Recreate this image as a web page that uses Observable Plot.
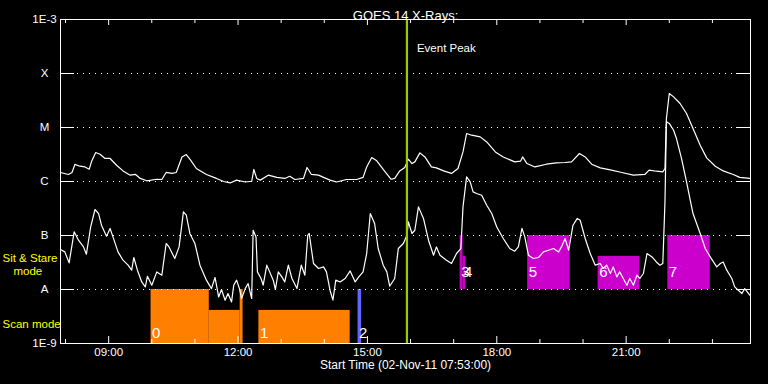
<!DOCTYPE html>
<html><head><meta charset="utf-8">
<script src="https://cdn.jsdelivr.net/npm/d3@7"></script>
<script src="https://cdn.jsdelivr.net/npm/@observablehq/plot@0.6"></script>
<style>html,body{margin:0;padding:0;background:#000;} #chart{width:768px;height:384px;}</style>
</head><body><div id="chart"></div>
<script>
// ---- data ----
const startTime = "07:53", endTime = "23:53";
const eventPeakTime = "15:55";
const titleText = "GOES 14 X-Rays:";
const footerText = "Start Time (02-Nov-11 07:53:00)";

// long-wavelength channel (1-8 Å), W/m²
const longTime = ["07:53","08:04","08:09","08:13","08:20","08:27","08:33","08:36","08:42","08:48","08:55","09:02","09:11","09:20","09:30","09:37","09:44","09:53","10:07","10:14","10:20","10:28","10:34","10:42","10:48","10:54","11:02","11:16","11:30","11:40","11:49","11:58","12:10","12:19","12:22","12:26","12:31","12:42","12:54","13:05","13:12","13:19","13:31","13:36","13:42","13:52","13:59","14:08","14:17","14:31","14:45","14:54","14:59","15:06","15:13","15:22","15:33","15:38","15:45","15:52","15:57","16:02","16:06","16:13","16:20","16:29","16:36","16:46","16:57","17:06","17:13","17:18","17:25","17:37","17:46","17:58","18:09","18:25","18:33","18:36","18:42","18:53","19:09","19:23","19:35","19:44","19:55","20:03","20:12","20:24","20:38","20:54","21:10","21:26","21:32","21:42","21:51","21:54","21:56","22:00","22:06","22:15","22:24","22:33","22:43","22:52","23:04","23:15","23:29","23:38","23:52"];
const longFlux = [1.47e-6,1.35e-6,1.47e-6,2.07e-6,1.92e-6,1.86e-6,1.69e-6,2.31e-6,3.44e-6,3.20e-6,2.67e-6,2.67e-6,2.00e-6,1.57e-6,1.31e-6,1.36e-6,1.14e-6,1.03e-6,1.10e-6,1.09e-6,1.47e-6,1.41e-6,1.47e-6,2.85e-6,3.16e-6,2.48e-6,1.74e-6,1.35e-6,1.14e-6,1.00e-6,9.4e-7,1.06e-6,9.8e-7,1.01e-6,1.67e-6,1.14e-6,1.06e-6,1.31e-6,1.19e-6,1.14e-6,1.25e-6,1.09e-6,1.14e-6,1.82e-6,1.35e-6,1.31e-6,1.19e-6,1.06e-6,9.8e-7,1.09e-6,1.09e-6,1.19e-6,1.86e-6,2.78e-6,2.41e-6,1.67e-6,1.10e-6,1.14e-6,1.57e-6,1.82e-6,2.59e-6,2.15e-6,2.31e-6,3.39e-6,2.85e-6,1.86e-6,1.79e-6,1.57e-6,1.41e-6,1.74e-6,3.53e-6,7.74e-6,7.20e-6,6.70e-6,5.41e-6,3.53e-6,2.85e-6,2.31e-6,2.38e-6,2.85e-6,2.15e-6,1.86e-6,2.09e-6,2.21e-6,2.25e-6,2.31e-6,3.30e-6,2.85e-6,2.09e-6,1.79e-6,1.64e-6,1.47e-6,1.31e-6,1.35e-6,1.62e-6,1.55e-6,1.51e-6,1.74e-6,1.47e-5,4.26e-5,3.69e-5,2.78e-5,1.82e-5,9.58e-6,4.70e-6,2.74e-6,1.92e-6,1.57e-6,1.35e-6,1.19e-6,1.14e-6];

// short-wavelength channel (0.5-4 Å), W/m²
const shortTime = ["07:53","07:59","08:05","08:12","08:18","08:25","08:29","08:35","08:41","08:46","08:50","08:57","09:02","09:06","09:13","09:20","09:27","09:32","09:35","09:40","09:46","09:51","09:54","10:00","10:07","10:14","10:20","10:24","10:32","10:38","10:44","10:48","10:53","11:00","11:07","11:16","11:23","11:28","11:33","11:37","11:42","11:46","11:51","11:54","11:58","12:02","12:05","12:10","12:14","12:19","12:21","12:25","12:27","12:32","12:35","12:40","12:44","12:49","12:52","12:56","13:01","13:05","13:10","13:15","13:22","13:28","13:33","13:37","13:39","13:45","13:52","13:59","14:03","14:08","14:12","14:16","14:22","14:29","14:36","14:43","14:48","14:54","14:59","15:04","15:10","15:15","15:22","15:27","15:31","15:38","15:43","15:50","15:55","15:57","16:02","16:06","16:11","16:18","16:25","16:32","16:36","16:41","16:50","16:57","17:04","17:10","17:13","17:18","17:23","17:27","17:32","17:39","17:46","17:53","18:00","18:09","18:18","18:25","18:30","18:35","18:39","18:44","18:51","18:58","19:05","19:12","19:19","19:26","19:30","19:35","19:40","19:46","19:52","19:56","20:03","20:10","20:17","20:24","20:28","20:33","20:38","20:42","20:47","20:51","20:56","21:01","21:05","21:10","21:15","21:19","21:24","21:29","21:36","21:42","21:47","21:51","21:54","21:56","22:00","22:06","22:10","22:17","22:24","22:33","22:43","22:50","22:57","23:06","23:11","23:15","23:20","23:27","23:31","23:36","23:41","23:45","23:52"];
const shortFlux = [5.50e-8,4.97e-8,3.11e-8,1.17e-7,8.18e-8,6.15e-8,4.51e-8,1.44e-7,3.03e-7,2.55e-7,1.55e-7,9.70e-8,1.35e-7,9.42e-8,4.97e-8,3.49e-8,2.82e-8,2.28e-8,3.91e-8,2.28e-8,1.38e-8,1.12e-8,1.76e-8,1.20e-8,2.12e-8,1.84e-8,7.11e-8,6.15e-8,3.75e-8,6.15e-8,2.74e-7,2.38e-7,1.09e-7,7.11e-8,2.82e-8,1.49e-8,1.04e-8,1.67e-8,7.29e-9,1.00e-8,6.34e-9,8.43e-9,5.89e-9,1.20e-8,1.49e-8,1.04e-8,6.81e-9,1.04e-8,1.29e-8,6.81e-9,1.25e-7,9.42e-8,2.12e-8,1.60e-8,1.20e-8,2.82e-8,2.12e-8,1.49e-8,1.00e-8,2.12e-8,1.71e-8,1.38e-8,2.82e-8,1.60e-8,1.04e-8,2.82e-8,1.84e-8,1.01e-7,1.09e-7,3.03e-8,2.45e-8,2.62e-8,2.12e-8,9.70e-9,6.34e-9,1.49e-8,1.38e-8,1.60e-8,2.21e-8,1.38e-8,1.71e-8,2.12e-8,4.64e-8,2.55e-7,1.67e-7,5.74e-8,2.82e-8,2.12e-8,1.15e-8,1.60e-8,5.74e-8,7.11e-8,1.01e-7,1.79e-7,1.09e-7,1.25e-7,3.39e-7,2.07e-7,8.18e-8,4.32e-8,6.15e-8,4.32e-8,3.49e-8,3.03e-8,4.64e-8,5.74e-8,3.39e-7,1.22e-6,9.83e-7,6.42e-7,5.99e-7,5.57e-7,3.64e-7,2.55e-7,1.44e-7,8.80e-8,5.74e-8,5.12e-8,6.15e-8,1.35e-7,9.42e-8,4.32e-8,3.75e-8,3.91e-8,4.97e-8,5.34e-8,5.74e-8,4.97e-8,6.15e-8,8.80e-8,5.34e-8,1.55e-7,2.07e-7,1.92e-7,8.80e-8,4.64e-8,2.82e-8,3.03e-8,2.45e-8,2.82e-8,1.98e-8,2.62e-8,1.71e-8,2.12e-8,1.60e-8,1.20e-8,1.60e-8,1.20e-8,1.84e-8,1.60e-8,1.98e-8,4.64e-8,4.01e-8,3.24e-8,2.82e-8,3.03e-8,4.19e-7,1.27e-5,1.19e-5,8.91e-6,6.25e-6,2.67e-6,9.83e-7,2.55e-7,1.09e-7,5.74e-8,4.01e-8,2.62e-8,3.03e-8,3.24e-8,2.28e-8,1.60e-8,1.12e-8,9.70e-9,8.43e-9,1.04e-8,7.84e-9];

// observation windows
const obsStart = ["09:59","11:20","12:03","12:29","14:47","17:09","17:13","18:43","20:21","21:58"];
const obsEnd   = ["11:20","12:03","12:07","14:36","14:52","17:13","17:17","19:42","21:19","22:57"];
const obsLow   = [1e-9,1e-9,1e-9,1e-9,1e-9,1e-8,1e-8,1e-8,1e-8,1e-8];
const obsHigh  = [1e-8,4.1e-9,1e-8,4.1e-9,1e-8,1e-7,4.1e-8,1e-7,4.1e-8,1e-7];
const obsMode  = ["scan","scan","scan","scan","scan2","stare","stare","stare","stare","stare"];
const modeColors = {scan: "#ff8000", scan2: "#6464ff", stare: "#cc00cc"};

const obsLabels    = ["0","1","2","3","4","5","6","7"];
const obsLabelTime = ["09:59","12:29","14:47","17:09","17:13","18:43","20:21","21:58"];
const obsLabelFlux = [1.58e-9,1.58e-9,1.58e-9,2.09e-8,2.09e-8,2.09e-8,2.09e-8,2.09e-8];

// axis
const levelValues = [1e-3,1e-4,1e-5,1e-6,1e-7,1e-8,1e-9];
const levelLabels = ["1E-3","X","M","C","B","A","1E-9"];
const gridLevels  = [1e-4,1e-5,1e-6,1e-7,1e-8];
const hourTicks   = ["08:00","09:00","10:00","11:00","12:00","13:00","14:00","15:00","16:00","17:00","18:00","19:00","20:00","21:00","22:00","23:00"];
const majorTicks  = ["09:00","12:00","15:00","18:00","21:00"];

const sideLabels = ["Sit & Stare","mode","Scan mode"];
const sideFlux   = [3.80e-8,2.18e-8,2.27e-9];

// ---- build ----
const T = s => { const [h, m] = s.split(":").map(Number); return new Date(Date.UTC(2011, 10, 2, h, m)); };
const longData  = longTime.map((t, i) => ({t: T(t), f: longFlux[i]}));
const shortData = shortTime.map((t, i) => ({t: T(t), f: shortFlux[i]}));
const obs = obsStart.map((s, i) => ({s: T(s), e: T(obsEnd[i]), lo: obsLow[i], hi: obsHigh[i], c: modeColors[obsMode[i]]}));
const obsLab = obsLabels.map((l, i) => ({l, t: T(obsLabelTime[i]), f: obsLabelFlux[i]}));
const minorT = hourTicks.filter(h => !majorTicks.includes(h)).map(T);
const majorT = majorTicks.map(T);

const chart = Plot.plot({
  width: 768, height: 384,
  marginLeft: 60, marginRight: 18, marginTop: 19, marginBottom: 41,
  style: {background: "#000", color: "#fff", fontFamily: "Liberation Sans, Arial, sans-serif", fontSize: "11px"},
  x: {type: "utc", domain: [T(startTime), T(endTime)], axis: null},
  y: {type: "log", domain: [1e-9, 1e-3], axis: null},
  color: {type: "identity"},
  marks: [
    Plot.rect(obs, {x1: "s", x2: "e", y1: "lo", y2: "hi", fill: "c"}),
    Plot.ruleY(gridLevels, {stroke: "#fff", strokeDasharray: "1,5", insetLeft: 17, insetRight: 17}),
    Plot.ruleY(gridLevels, {stroke: "#fff", insetRight: 676}),
    Plot.ruleY(gridLevels, {stroke: "#fff", insetLeft: 676}),
    Plot.ruleX(minorT, {stroke: "#fff", insetTop: 320}),
    Plot.ruleX(majorT, {stroke: "#fff", insetTop: 317}),
    Plot.ruleX(minorT, {stroke: "#fff", insetBottom: 320}),
    Plot.ruleX(majorT, {stroke: "#fff", insetBottom: 318}),
    Plot.line(shortData, {x: "t", y: "f", stroke: "#fff", strokeWidth: 1.2}),
    Plot.line(longData, {x: "t", y: "f", stroke: "#fff", strokeWidth: 1.2}),
    Plot.ruleX([T(eventPeakTime)], {stroke: "#9acd00", strokeWidth: 2.2}),
    Plot.frame({stroke: "#fff"}),
    Plot.text(obsLab, {x: "t", y: "f", text: "l", textAnchor: "start", dx: 1, fontSize: 15, fill: "#fff"}),
    Plot.text(levelLabels, {y: levelValues, frameAnchor: "left", dx: -16, textAnchor: "middle", fill: "#fff", fontSize: 11.5}),
    Plot.text(majorTicks, {x: majorT, frameAnchor: "bottom", dy: 12, fill: "#fff", fontSize: 11.5}),
    Plot.text([titleText], {frameAnchor: "top", dy: -9, fill: "#fff", fontSize: 13}),
    Plot.text([footerText], {frameAnchor: "bottom", dy: 25, fill: "#fff", fontSize: 12}),
    Plot.text(["Event Peak"], {x: [T(eventPeakTime)], frameAnchor: "top", dy: 24, dx: 10, textAnchor: "start", fill: "#fff", fontSize: 11.5}),
    Plot.text([sideLabels[0]], {y: [sideFlux[0]], frameAnchor: "left", dx: -58, textAnchor: "start", fill: "#ffff00", fontSize: 11.5}),
    Plot.text([sideLabels[1]], {y: [sideFlux[1]], frameAnchor: "left", dx: -47, textAnchor: "start", fill: "#ffff00", fontSize: 11.5}),
    Plot.text([sideLabels[2]], {y: [sideFlux[2]], frameAnchor: "left", dx: -58, textAnchor: "start", fill: "#ffff00", fontSize: 11.5})
  ]
});
document.getElementById("chart").appendChild(chart);
</script>
</body></html>
